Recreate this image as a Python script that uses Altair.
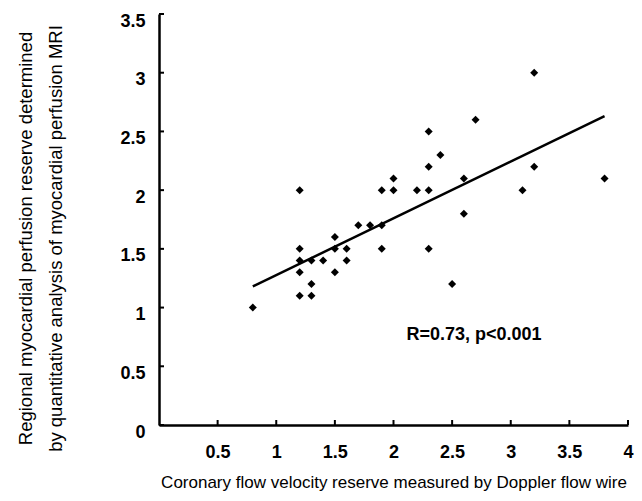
import altair as alt
import pandas as pd

# Coronary flow velocity reserve (x) vs regional myocardial perfusion reserve (y)
cfvr = [0.8, 1.2, 1.2, 1.2, 1.2, 1.2, 1.3, 1.3, 1.3, 1.4, 1.5, 1.5, 1.5, 1.6, 1.6,
        1.7, 1.8, 1.9, 1.9, 1.9, 2.0, 2.0, 2.2, 2.3, 2.3, 2.3, 2.4, 2.3, 2.5, 2.6,
        2.6, 2.7, 3.1, 3.2, 3.2, 3.8]
mpr = [1.0, 2.0, 1.5, 1.4, 1.3, 1.1, 1.4, 1.2, 1.1, 1.4, 1.6, 1.5, 1.3, 1.5, 1.4,
       1.7, 1.7, 1.7, 1.5, 2.0, 2.0, 2.1, 2.0, 2.0, 2.5, 2.2, 2.3, 1.5, 1.2, 2.1,
       1.8, 2.6, 2.0, 3.0, 2.2, 2.1]

# regression line end points
fit_x = [0.8, 3.8]
fit_y = [1.18, 2.63]

x_ticks = [0.5, 1, 1.5, 2, 2.5, 3, 3.5, 4]
y_ticks = [0, 0.5, 1, 1.5, 2, 2.5, 3, 3.5]

note_text = ["R=0.73, p<0.001"]
note_x = [2.11]
note_y = [0.77]

x_title = "Coronary flow velocity reserve measured by Doppler flow wire"
y_title = ["Regional myocardial perfusion reserve determined",
           "by quantitative analysis of myocardial perfusion MRI"]

FONT = "Liberation Sans"
W, H = 469, 411

xscale = alt.Scale(domain=[0, 4], nice=False, zero=False)
yscale = alt.Scale(domain=[0, 3.5], nice=False, zero=False)

xaxis = alt.Axis(values=x_ticks, format="~g", ticks=False, tickSize=0, grid=False,
                 domainColor="black", domainWidth=2.5,
                 labelFont=FONT, labelFontSize=18, labelFontWeight="bold",
                 labelColor="black", labelPadding=18, labelFlush=False,
                 labelOverlap=False,
                 title=x_title, titleFont=FONT, titleFontSize=17,
                 titleFontWeight="normal", titleColor="black",
                 titleBaseline="alphabetic", titleY=62)
yaxis = alt.Axis(values=y_ticks, format="~g", ticks=False, tickSize=0, grid=False,
                 domainColor="black", domainWidth=2.5,
                 labelFont=FONT, labelFontSize=18, labelFontWeight="bold",
                 labelColor="black", labelPadding=14, labelOffset=7,
                 labelFlush=False, labelOverlap=False,
                 title=y_title, titleFont=FONT, titleFontSize=18.5,
                 titleFontWeight="normal", titleColor="black",
                 titleAngle=270, titleAlign="center", titleBaseline="middle",
                 titleLineHeight=30, titleX=-134, titleY=224)

xenc = alt.X("x:Q", scale=xscale, axis=xaxis)
yenc = alt.Y("y:Q", scale=yscale, axis=yaxis)

pts = pd.DataFrame({"x": cfvr, "y": mpr})
fit = pd.DataFrame({"x": fit_x, "y": fit_y})
xt = pd.DataFrame({"x": x_ticks})
yt = pd.DataFrame({"y": y_ticks})
note = pd.DataFrame({"x": note_x, "y": note_y, "t": note_text})

points = alt.Chart(pts).mark_point(shape="diamond", filled=True, color="black",
                                   size=64, opacity=1).encode(x=xenc, y=yenc)
line = alt.Chart(fit).mark_line(color="black", strokeWidth=2.5).encode(x=xenc, y=yenc)
xtick = alt.Chart(xt).mark_rule(color="black", strokeWidth=2).encode(
    x=xenc, y=alt.value(H), y2=alt.value(H - 5))
ytick = alt.Chart(yt).mark_rule(color="black", strokeWidth=2).encode(
    y=yenc, x=alt.value(0), x2=alt.value(5))
text = alt.Chart(note).mark_text(font=FONT, fontSize=18, fontWeight="bold",
                                 align="left", baseline="middle", color="black").encode(
    x=xenc, y=yenc, text="t:N")

chart = alt.layer(xtick, ytick, line, points, text).properties(
    width=W, height=H,
    autosize=alt.AutoSizeParams(type="none"),
    padding={"left": 151, "top": 6, "right": 6, "bottom": 66},
    background="white",
).configure_view(stroke=None)

chart.save("out.html", embed_options={"renderer": "svg", "actions": False})
